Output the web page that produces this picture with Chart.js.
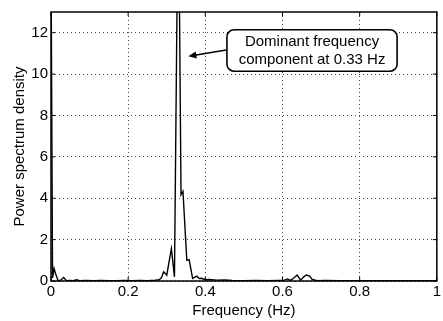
<!DOCTYPE html>
<html>
<head>
<meta charset="utf-8">
<script src="https://cdn.jsdelivr.net/npm/chart.js@4/dist/chart.umd.min.js"></script>
<style>
  html, body { margin: 0; padding: 0; background: #fff; }
  #wrap { width: 443px; height: 321px; }
</style>
</head>
<body>
<div id="wrap"><canvas id="psdChart" width="443" height="321"></canvas></div>
<script>
// spectrum (frequency in Hz, PSD)
const freqs = [0, 0.004, 0.008, 0.012, 0.018, 0.025, 0.033, 0.04, 0.05, 0.058, 0.066, 0.074,
  0.09, 0.11, 0.13, 0.15, 0.17, 0.19, 0.21, 0.23, 0.25, 0.27, 0.28, 0.286, 0.292, 0.3, 0.312,
  0.32, 0.33, 0.337, 0.342, 0.352, 0.358, 0.367, 0.378, 0.384, 0.39, 0.4, 0.41, 0.43, 0.45,
  0.47, 0.5, 0.53, 0.56, 0.59, 0.605, 0.613, 0.62, 0.628, 0.638, 0.647, 0.655, 0.662, 0.67,
  0.677, 0.69, 0.71, 0.75, 0.8, 0.85, 0.9, 0.95, 1.0];
const psd = [16, 0.15, 0.6, 0.35, 0.03, 0.04, 0.17, 0.02, 0.03, 0.02, 0.06, 0.02,
  0.03, 0.02, 0.03, 0.02, 0.02, 0.03, 0.02, 0.03, 0.02, 0.04, 0.06, 0.15, 0.44, 0.28, 1.56,
  0.2, 20, 4.17, 4.33, 1.0, 1.03, 0.13, 0.24, 0.12, 0.13, 0.06, 0.07, 0.04, 0.05,
  0.03, 0.02, 0.03, 0.02, 0.03, 0.04, 0.1, 0.03, 0.12, 0.29, 0.04, 0.2, 0.29, 0.24,
  0.08, 0.02, 0.03, 0.02, 0.02, 0.01, 0.02, 0.01, 0.01];

const xTicks = [0, 0.2, 0.4, 0.6, 0.8, 1];
const xTickLabels = ['0', '0.2', '0.4', '0.6', '0.8', '1'];
const yTicks = [0, 2, 4, 6, 8, 10, 12];
const yTickLabels = ['0', '2', '4', '6', '8', '10', '12'];

const xTitle = 'Frequency (Hz)';
const yTitle = 'Power spectrum density';

// annotation, in data units
const noteLines = ['Dominant frequency', 'component at 0.33 Hz'];
const noteBox = { x0: 0.456, x1: 0.897, y0: 10.14, y1: 12.14 };
const noteArrow = { fromX: 0.454, fromY: 11.16, toX: 0.356, toY: 10.86 };

const FONT = '"Liberation Sans", Arial, Helvetica, sans-serif';

// ------------------------------------------
// frame, inward ticks and the callout
// ------------------------------------------
const frameAndNote = {
  id: 'frameAndNote',
  afterDraw(chart) {
    const { ctx, chartArea: a, scales: { x, y } } = chart;
    ctx.save();
    ctx.strokeStyle = '#000';
    ctx.lineWidth = 1.5;
    ctx.strokeRect(a.left, a.top, a.right - a.left, a.bottom - a.top);

    // inward ticks
    ctx.lineWidth = 1;
    ctx.beginPath();
    xTicks.forEach(v => {
      const px = x.getPixelForValue(v);
      ctx.moveTo(px, a.bottom); ctx.lineTo(px, a.bottom - 4);
      ctx.moveTo(px, a.top); ctx.lineTo(px, a.top + 4);
    });
    yTicks.forEach(v => {
      const py = y.getPixelForValue(v);
      ctx.moveTo(a.left, py); ctx.lineTo(a.left + 4, py);
      ctx.moveTo(a.right, py); ctx.lineTo(a.right - 4, py);
    });
    ctx.stroke();

    // callout box
    const bx0 = x.getPixelForValue(noteBox.x0), bx1 = x.getPixelForValue(noteBox.x1);
    const by0 = y.getPixelForValue(noteBox.y1), by1 = y.getPixelForValue(noteBox.y0);
    ctx.beginPath();
    ctx.roundRect(bx0, by0, bx1 - bx0, by1 - by0, 7);
    ctx.fillStyle = '#fff';
    ctx.fill();
    ctx.lineWidth = 1.6;
    ctx.stroke();

    ctx.fillStyle = '#000';
    ctx.font = '15px ' + FONT;
    ctx.textAlign = 'center';
    ctx.textBaseline = 'middle';
    const cx = (bx0 + bx1) / 2, cy = (by0 + by1) / 2;
    ctx.fillText(noteLines[0], cx, cy - 8.5);
    ctx.fillText(noteLines[1], cx, cy + 9);

    // arrow
    const ax0 = x.getPixelForValue(noteArrow.fromX), ay0 = y.getPixelForValue(noteArrow.fromY);
    const ax1 = x.getPixelForValue(noteArrow.toX), ay1 = y.getPixelForValue(noteArrow.toY);
    const ang = Math.atan2(ay1 - ay0, ax1 - ax0);
    const hl = 8, hw = 3.5;
    ctx.lineWidth = 1.6;
    ctx.beginPath();
    ctx.moveTo(ax0, ay0);
    ctx.lineTo(ax1 - Math.cos(ang) * hl * 0.8, ay1 - Math.sin(ang) * hl * 0.8);
    ctx.stroke();
    ctx.beginPath();
    ctx.moveTo(ax1, ay1);
    ctx.lineTo(ax1 - Math.cos(ang) * hl - Math.sin(ang) * hw, ay1 - Math.sin(ang) * hl + Math.cos(ang) * hw);
    ctx.lineTo(ax1 - Math.cos(ang) * hl + Math.sin(ang) * hw, ay1 - Math.sin(ang) * hl - Math.cos(ang) * hw);
    ctx.closePath();
    ctx.fill();
    ctx.restore();
  }
};

const gridStyle = { color: '#444', lineWidth: 1, drawTicks: false };

new Chart(document.getElementById('psdChart'), {
  type: 'line',
  data: {
    datasets: [{
      data: freqs.map((f, i) => ({ x: f, y: psd[i] })),
      borderColor: '#000',
      borderWidth: 1.4,
      pointRadius: 0,
      tension: 0,
      fill: false
    }]
  },
  options: {
    responsive: false,
    animation: false,
    devicePixelRatio: 1,
    layout: { padding: { top: 7, right: 2, left: 0, bottom: 0 } },
    plugins: { legend: { display: false }, tooltip: { enabled: false } },
    scales: {
      x: {
        type: 'linear',
        min: 0, max: 1,
        afterBuildTicks: s => { s.ticks = xTicks.map(v => ({ value: v })); },
        afterFit: s => { s.height = 40; },
        grid: gridStyle,
        border: { display: false, dash: [1, 3] },
        ticks: {
          color: '#000', padding: 2, maxRotation: 0,
          font: { family: FONT, size: 15 },
          callback: v => xTickLabels[xTicks.indexOf(v)] ?? ''
        },
        title: {
          display: true, text: xTitle, color: '#000',
          font: { family: FONT, size: 15 },
          padding: { top: 0, bottom: 1.5 }
        }
      },
      y: {
        min: 0, max: 13,
        afterBuildTicks: s => { s.ticks = yTicks.map(v => ({ value: v })); },
        afterFit: s => { s.width = 51; },
        grid: gridStyle,
        border: { display: false, dash: [1, 3] },
        ticks: {
          color: '#000', padding: 3,
          font: { family: FONT, size: 15 },
          callback: v => yTickLabels[yTicks.indexOf(v)] ?? ''
        },
        title: {
          display: true, text: yTitle, color: '#000',
          font: { family: FONT, size: 15 },
          padding: { top: 11, bottom: 0 }
        }
      }
    }
  },
  plugins: [frameAndNote]
});
</script>
</body>
</html>
